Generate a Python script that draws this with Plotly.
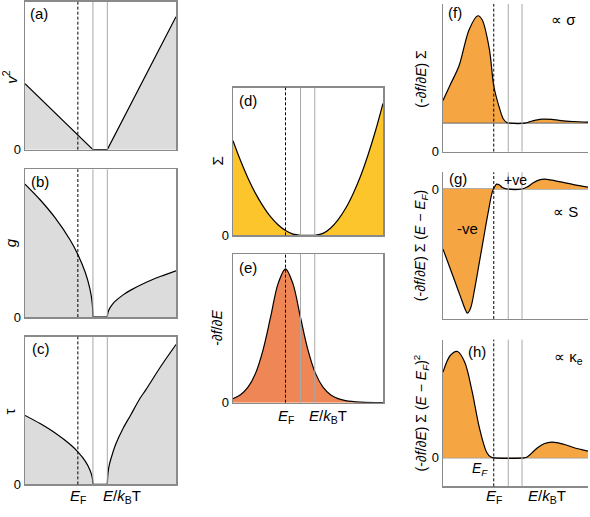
import plotly.graph_objects as go

W, H = 590, 517

# ---- energy markers (x axis units, range 0..10) ----
E_RANGE = [0, 10]
E_F = 3.5
E_V = 4.5
E_C = 5.45

# (a) v^2
v2_E = [0, 4.5, 5.45, 10]
v2 = [0.447, 0, 0, 0.9]

# (b) g
g_left_E = [0, 1, 2, 3, 3.5, 4, 4.3, 4.45, 4.5]
g_left = [0.9, 0.794, 0.671, 0.52, 0.424, 0.30, 0.19, 0.095, 0]
g_right_E = [5.45, 5.5, 5.6, 5.8, 6, 6.5, 7, 8, 9, 10]
g_right = [0, 0.033, 0.057, 0.087, 0.109, 0.15, 0.182, 0.234, 0.276, 0.313]

# (c) tau
tau_left_E = [0, 1, 2, 3, 3.5, 4, 4.3, 4.45, 4.5]
tau_left = [0.467, 0.412, 0.348, 0.27, 0.22, 0.156, 0.098, 0.049, 0]
tau_right_E = [5.45, 5.5, 5.6, 5.8, 6, 6.5, 7, 7.6, 8, 9, 10]
tau_right = [0, 0.08, 0.14, 0.21, 0.27, 0.38, 0.47, 0.58, 0.64, 0.80, 0.947]

# (d) Sigma
sig_left_E = [0, 0.5, 1, 1.5, 2, 2.5, 3, 3.5, 4, 4.5]
sig_left = [0.64, 0.506, 0.387, 0.284, 0.198, 0.126, 0.071, 0.032, 0.008, 0]
sig_right_E = [5.45, 6, 6.5, 7, 7.5, 8, 8.5, 9, 9.5, 10]
sig_right = [0, 0.013, 0.048, 0.104, 0.181, 0.28, 0.40, 0.544, 0.708, 0.893]

# (e) -df/dE
dfde_E = [0, 0.5, 1, 1.5, 2, 2.5, 3, 3.5, 4, 4.5, 5, 5.5, 6, 6.5, 7, 7.5, 8.5, 10]
dfde = [0.027, 0.053, 0.104, 0.197, 0.354, 0.573, 0.799, 0.9, 0.799, 0.573,
        0.354, 0.197, 0.104, 0.053, 0.027, 0.0135, 0.0034, 0.0003]

# (f) (-df/dE) Sigma   (baseline drawn above the axis zero)
f_E = [0, 0.5, 1.1, 1.8, 2.4, 2.7, 3.2, 3.5, 3.9, 4.15, 4.4, 4.6, 5.66,
       6.0, 6.4, 6.9, 7.5, 8, 8.5, 9, 10]
f_val = [0.153, 0.26, 0.387, 0.633, 0.727, 0.70, 0.50, 0.253, 0.10, 0.03, 0.004, 0, 0,
         0.01, 0.02, 0.027, 0.025, 0.019, 0.014, 0.011, 0.007]
f_base = 0.193

# (g) (-df/dE) Sigma (E - EF)
s_E = [0, 0.4, 0.8, 1.2, 1.5, 1.67, 1.9, 2.2, 2.5, 2.8, 3.1, 3.4, 3.55, 3.7, 3.9, 4.1,
       4.4, 5.45, 5.8, 6.2, 6.6, 7.0, 7.5, 8, 9, 10]
s_val = [-0.407, -0.513, -0.62, -0.727, -0.807, -0.84, -0.807, -0.667, -0.5, -0.333,
         -0.167, -0.02, 0.013, 0.033, 0.027, 0.01, 0, 0, 0.013, 0.04, 0.06, 0.067,
         0.06, 0.05, 0.03, 0.013]

# (h) (-df/dE) Sigma (E - EF)^2
k_E = [0, 0.5, 1, 1.5, 2, 2.5, 3, 3.3, 3.5, 5.6, 5.8, 6.1, 6.5, 7, 7.5, 8, 8.5, 9, 9.5, 10]
k_val = [0.58, 0.693, 0.72, 0.647, 0.453, 0.207, 0.04, 0.005, 0, 0, 0.006, 0.03,
         0.067, 0.097, 0.107, 0.1, 0.087, 0.07, 0.057, 0.045]

# ---- layout helpers ----
GRAY_FILL = "#dcdcdc"
YELLOW = "#fcc52b"
SALMON = "#ee8655"
ORANGE = "#f6a543"
FONT = "Arial, Liberation Sans, Helvetica, sans-serif"

panels = {
    1: (25, 176, 2, 152),
    2: (25, 176, 172, 322),
    3: (25, 176, 342, 492),
    4: (233, 383, 89, 239),
    5: (233, 383, 258, 409),
    6: (443, 588, 4, 154),
    7: (443, 588, 175, 324),
    8: (443, 588, 345, 494),
}
yranges = {1: [0, 1], 2: [0, 1], 3: [0, 1], 4: [0, 1], 5: [0, 1],
           6: [0, 1], 7: [-0.88, 0.113], 8: [-0.193, 0.8]}

fig = go.Figure()


def ax(n):
    return ("x" if n == 1 else f"x{n}"), ("y" if n == 1 else f"y{n}")


def add(n, x, y, fill=None, fillcolor=None, shape="spline", width=1.2, color="black"):
    xa, ya = ax(n)
    fig.add_trace(go.Scatter(x=x, y=y, xaxis=xa, yaxis=ya, mode="lines",
                             line=dict(color=color, width=width, shape=shape, smoothing=0.9),
                             fill=fill, fillcolor=fillcolor, hoverinfo="skip",
                             showlegend=False))


# (a)
add(1, v2_E, v2, fill="tozeroy", fillcolor=GRAY_FILL, shape="linear")
# (b)
add(2, g_left_E, g_left, fill="tozeroy", fillcolor=GRAY_FILL)
add(2, [E_V, E_C], [0, 0], shape="linear")
add(2, g_right_E, g_right, fill="tozeroy", fillcolor=GRAY_FILL)
# (c)
add(3, tau_left_E, tau_left, fill="tozeroy", fillcolor=GRAY_FILL)
add(3, [E_V, E_C], [0, 0], shape="linear")
add(3, tau_right_E, tau_right, fill="tozeroy", fillcolor=GRAY_FILL)
# (d)
add(4, sig_left_E, sig_left, fill="tozeroy", fillcolor=YELLOW)
add(4, [E_V, E_C], [0, 0], shape="linear")
add(4, sig_right_E, sig_right, fill="tozeroy", fillcolor=YELLOW)
# (e)
add(5, dfde_E, dfde, fill="tozeroy", fillcolor=SALMON)
# (f)
add(6, E_RANGE, [f_base, f_base], shape="linear", color="#666666", width=1)
add(6, f_E, [v + f_base for v in f_val], fill="tonexty", fillcolor=ORANGE)
# (g)
add(7, E_RANGE, [0, 0], shape="linear", color="#666666", width=1)
add(7, s_E, s_val, fill="tozeroy", fillcolor=ORANGE)
# (h)
add(8, E_RANGE, [0, 0], shape="linear", color="#666666", width=1)
add(8, k_E, k_val, fill="tozeroy", fillcolor=ORANGE)

layout = dict(width=W, height=H, margin=dict(l=0, r=0, t=0, b=0),
              paper_bgcolor="white", plot_bgcolor="white",
              font=dict(family=FONT, size=13, color="black"))
shapes = []
for n, (x0, x1, y0, y1) in panels.items():
    xa, ya = ax(n)
    boxed = n <= 5
    layout["xaxis" if n == 1 else f"xaxis{n}"] = dict(
        domain=[x0 / W, x1 / W], range=E_RANGE, anchor=ya, showgrid=False,
        zeroline=False, showticklabels=False, ticks="", showline=True,
        linecolor="#8a8a8a", linewidth=1.5, mirror=boxed, fixedrange=True)
    layout["yaxis" if n == 1 else f"yaxis{n}"] = dict(
        domain=[1 - y1 / H, 1 - y0 / H], range=yranges[n], anchor=xa,
        showgrid=False, zeroline=False, tickmode="array",
        tickvals=[0], ticktext=["0"], ticks="",
        tickfont=dict(size=13), showline=True, linecolor="#8a8a8a",
        linewidth=1.5, mirror=boxed, fixedrange=True)
    for xv, col, dash in [(E_V, "#a8a8a8", "solid"), (E_C, "#a8a8a8", "solid"),
                          (E_F, "black", "3px,2px")]:
        shapes.append(dict(type="line", xref=xa, yref=f"{ya} domain", x0=xv, x1=xv,
                           y0=0, y1=1, layer="above",
                           line=dict(color=col, width=1, dash=dash)))
layout["shapes"] = shapes


def P(x, y):
    return x / W, 1 - y / H


annots = []


def txt(x, y, s, size=14, angle=0, xanchor="center"):
    px, py = P(x, y)
    annots.append(dict(x=px, y=py, xref="paper", yref="paper", text=s, showarrow=False,
                       textangle=angle, xanchor=xanchor, yanchor="middle",
                       font=dict(family=FONT, size=size, color="black")))


# panel letters
txt(39, 14, "(a)", size=15)
txt(40, 184, "(b)", size=15)
txt(41, 354, "(c)", size=15)
txt(248, 102, "(d)", size=15)
txt(248, 272, "(e)", size=15)
txt(455, 13, "(f)", size=15)
txt(458, 181, "(g)", size=15)
txt(477, 357, "(h)", size=15)

# y titles
txt(10, 78, "<i>v</i><sup>2</sup>", size=15, angle=-90)
txt(10, 247, "<i>g</i>", size=15, angle=-90)
txt(10, 418, "τ", size=15, angle=-90)
txt(217, 163, "Σ", size=15, angle=-90)
txt(217, 333, "-∂<i>f</i>/∂<i>E</i>", size=14, angle=-90)
txt(421, 80, "(-∂<i>f</i>/∂<i>E</i>) Σ", size=14, angle=-90)
txt(421, 250, "(-∂<i>f</i>/∂<i>E</i>) Σ (<i>E</i> − <i>E<sub>F</sub></i>)", size=14, angle=-90)
txt(421, 420, "(-∂<i>f</i>/∂<i>E</i>) Σ (<i>E</i> − <i>E<sub>F</sub></i>)<sup>2</sup>",
    size=14, angle=-90)

# x labels
for (xf, xk, yy) in [(78, 122, 504), (286, 328, 423), (494, 547, 504)]:
    txt(xf, yy, "<i>E</i><sub>F</sub>", size=15)
    txt(xk, yy, "<i>E</i>/<i>k</i><sub>B</sub>T", size=15)

# proportionality and sign notes
txt(563, 20, "∝ σ", size=15)
txt(565, 215, "∝ S", size=15)
txt(568, 363, "∝ κ<sub>e</sub>", size=15)
txt(515, 183, "+ve", size=14)
txt(467, 232, "-ve", size=15)
txt(480, 476, "<i>E<sub>F</sub></i>", size=14)

layout["annotations"] = annots
fig.update_layout(**layout)
fig.write_html("out.html", config={"displayModeBar": False, "staticPlot": True},
               post_script="document.body.style.margin='0';document.body.style.padding='0';")
